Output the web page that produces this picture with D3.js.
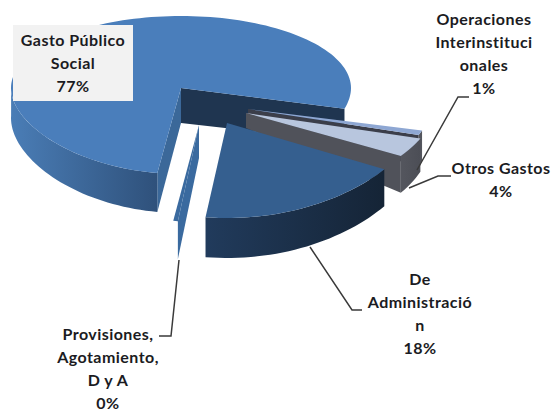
<!DOCTYPE html>
<html>
<head>
<meta charset="utf-8">
<script src="https://cdn.jsdelivr.net/npm/d3@7"></script>
<style>
  html, body { margin: 0; padding: 0; background: #fff; }
  svg { display: block; }
  text { font-family: Lato, "Open Sans", sans-serif; font-weight: 700; font-size: 16px; letter-spacing: 0.45px; fill: #1b1b22; text-anchor: middle; }
</style>
</head>
<body>
<div id="chart"></div>
<script>
// Chart values
var categories = ["Gasto Público Social", "Operaciones Interinstitucionales", "Otros Gastos", "De Administración", "Provisiones, Agotamiento, D y A"];
var values = [77.2, 1.0, 3.8, 17.6, 0.4];
var labelLines = [
  ["Gasto Público", "Social"],
  ["Operaciones", "Interinstituci", "onales"],
  ["Otros Gastos"],
  ["De", "Administració", "n"],
  ["Provisiones,", "Agotamiento,", "D y A"]
];

var svgWidth = 554;
var svgHeight = 411;
var toRad = Math.PI / 180;

// Where each exploded slice sits and how it is faked into 3D
var sliceLayout = [
  { ax: 181, ay: 88, rx: 170, ryFar: 72, ryNear: 86, hApex: 35, hSide: 30, hNear: 39,
    top: "#4a7ebb", wallFrom: "#4a7db6", wallTo: "#2f517b", outerEnd: 272 * toRad,
    radial: [{ at: "startAngle", fill: "#3b6899" }, { at: "endAngle", fill: "#1f3550" }] },
  { ax: 248, ay: 109, rx: 181, ryFar: 78, ryNear: 78, hApex: 15, hSide: 28, hNear: 36,
    top: "#8ea7d3", wallFrom: "#54565e", wallTo: "#54565e",
    radial: [{ at: "endAngle", fill: "#3b3e4a" }] },
  { ax: 246, ay: 113, rx: 185, ryFar: 72, ryNear: 84, hApex: 15, hSide: 28, hNear: 44,
    top: "#b8c6de", wallFrom: "#54565e", wallTo: "#4c4e56",
    radial: [{ at: "endAngle", fill: "#50525a" }] },
  { ax: 227, ay: 123, rx: 188, ryFar: 72, ryNear: 95, hApex: 33, hSide: 33, hNear: 40,
    top: "#355f8f", wallFrom: "#213b5c", wallTo: "#152436", radial: [] },
  { ax: 199, ay: 125, rx: 185, ryFar: 72, ryNear: 97, hApex: 33, hSide: 30, hNear: 38,
    top: "#3a6a9f", radial: [{ at: "startAngle", fill: "#3a6a9f" }], noOuter: true }
];

// Label placement and leader lines
var labelPos = [
  { x: 73, y: 46, box: { x: 13, y: 25, w: 120, h: 76 } },
  { x: 484, y: 25 },
  { x: 501, y: 174 },
  { x: 420, y: 285 },
  { x: 108, y: 340 }
];
var leaders = [
  null,
  [[417, 170], [458, 97], [469, 97]],
  [[409, 188], [438, 176], [451, 176]],
  [[310, 247], [352, 310], [362, 310]],
  [[179, 260], [171, 336], [159, 336]]
];
var lineStep = 23;

var svg = d3.select("#chart")
  .append("svg")
  .attr("width", svgWidth)
  .attr("height", svgHeight);

var defs = svg.append("defs");

var pie = d3.pie()
  .sort(null)
  .value(d => d)
  .startAngle(188 * toRad)
  .endAngle(548 * toRad);

var slices = pie(values);

// projects an angle on a slice's rim or apex onto the page
function rimPoint(l, a, drop) {
  var c = Math.cos(a);
  var ry = c > 0 ? l.ryFar : l.ryFar + (l.ryNear - l.ryFar) * (-c);
  var h = drop ? l.hSide + (l.hNear - l.hSide) * Math.max(0, -c) : 0;
  return [l.ax + l.rx * Math.sin(a), l.ay - ry * c + h];
}

function sampleAngles(a0, a1) {
  var n = Math.max(2, Math.ceil(Math.abs(a1 - a0) / (toRad * 2)));
  return d3.range(n + 1).map(i => a0 + (a1 - a0) * i / n);
}

var line = d3.line().curve(d3.curveLinearClosed);

slices.forEach(function(s, i) {
  var l = sliceLayout[i];
  var g = svg.append("g").attr("class", "slice");

  // radial walls
  l.radial.forEach(function(w) {
    var a = s[w.at];
    g.append("path")
      .attr("d", line([[l.ax, l.ay], rimPoint(l, a, false), rimPoint(l, a, true), [l.ax, l.ay + l.hApex]]))
      .attr("fill", w.fill);
  });

  // outer wall, shaded left to right
  if (!l.noOuter) {
    var gradId = "wall" + i;
    var grad = defs.append("linearGradient").attr("id", gradId);
    grad.append("stop").attr("offset", "0%").attr("stop-color", l.wallFrom);
    grad.append("stop").attr("offset", "100%").attr("stop-color", l.wallTo);
    var angles = sampleAngles(s.startAngle, l.outerEnd || s.endAngle);
    var outline = angles.map(a => rimPoint(l, a, false))
      .concat(angles.slice().reverse().map(a => rimPoint(l, a, true)));
    g.append("path")
      .attr("d", line(outline))
      .attr("fill", `url(#${gradId})`);
  }

  // top face
  var topOutline = [[l.ax, l.ay]].concat(sampleAngles(s.startAngle, s.endAngle).map(a => rimPoint(l, a, false)));
  g.append("path")
    .attr("d", line(topOutline))
    .attr("fill", l.top);
});

// leader lines
var leaderLine = d3.line();
svg.selectAll(".leader")
  .data(leaders.filter(d => d))
  .enter()
  .append("path")
  .attr("class", "leader")
  .attr("d", d => leaderLine(d))
  .attr("fill", "none")
  .attr("stroke", "#3a3a3a")
  .attr("stroke-width", 1.5);

// labels
var pct = d3.format(".0f");
labelPos.forEach(function(p, i) {
  if (p.box) {
    svg.append("rect")
      .attr("x", p.box.x).attr("y", p.box.y)
      .attr("width", p.box.w).attr("height", p.box.h)
      .attr("fill", "#f2f2f2");
  }
  var lines = labelLines[i].concat([pct(values[i]) + "%"]);
  svg.selectAll(null)
    .data(lines)
    .enter()
    .append("text")
    .attr("x", p.x)
    .attr("y", (d, j) => p.y + j * lineStep)
    .text(d => d);
});
</script>
</body>
</html>
